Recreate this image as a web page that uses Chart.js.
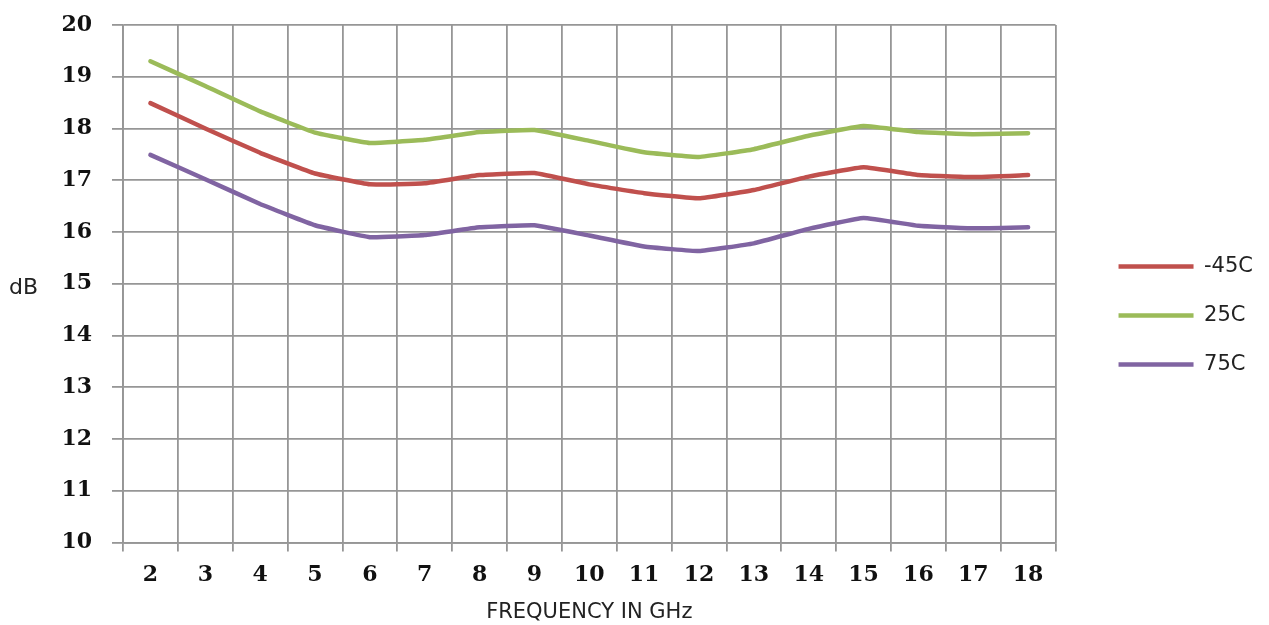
<!DOCTYPE html>
<html>
<head>
<meta charset="utf-8">
<script src="https://cdn.jsdelivr.net/npm/chart.js@4"></script>
<style>
  html, body { margin: 0; padding: 0; background: #fff; }
  #wrap { width: 1269px; height: 625px; }
</style>
</head>
<body>
<div id="wrap"><canvas id="myChart"></canvas></div>
<script>
// frequency in GHz
const freqs = ["2", "3", "4", "5", "6", "7", "8", "9", "10", "11", "12", "13", "14", "15", "16", "17", "18"];
// dB readings per temperature
const minus45 = [18.49, 18.0, 17.53, 17.13, 16.92, 16.94, 17.10, 17.14, 16.92, 16.75, 16.65, 16.81, 17.07, 17.25, 17.10, 17.06, 17.10];
const plus25 = [19.30, 18.82, 18.33, 17.92, 17.72, 17.78, 17.93, 17.97, 17.76, 17.54, 17.45, 17.60, 17.86, 18.05, 17.93, 17.89, 17.91];
const plus75 = [17.49, 17.02, 16.54, 16.13, 15.90, 15.94, 16.09, 16.13, 15.93, 15.72, 15.63, 15.78, 16.06, 16.27, 16.12, 16.07, 16.09];
const yTicks = [10, 11, 12, 13, 14, 15, 16, 17, 18, 19, 20];

const gridColor = "#969696";
const tickFont = { family: "DejaVu Serif", size: 22, weight: "bold" };

// "dB" sits level with the 15 tick, not rotated
const dbLabel = {
  id: "dbLabel",
  afterDraw(chart) {
    const c = chart.ctx;
    const y = chart.scales.y.getPixelForValue(15);
    c.save();
    c.font = "22px 'DejaVu Sans'";
    c.fillStyle = "#222";
    c.textAlign = "left";
    c.textBaseline = "middle";
    c.fillText("dB", 9, y + 5);
    c.restore();
  }
};

const ctx = document.getElementById("myChart").getContext("2d");
const config = {
  type: "line",
  data: {
    labels: freqs,
    datasets: [
      { label: "-45C", data: minus45, borderColor: "#C0504D", backgroundColor: "#C0504D", borderWidth: 4.5 },
      { label: "25C", data: plus25, borderColor: "#9BBB59", backgroundColor: "#9BBB59", borderWidth: 4.5 },
      { label: "75C", data: plus75, borderColor: "#8064A2", backgroundColor: "#8064A2", borderWidth: 4.5 }
    ]
  },
  options: {
    responsive: true,
    maintainAspectRatio: false,
    animation: false,
    elements: {
      line: { tension: 0.1, borderCapStyle: "round" },
      point: { radius: 0 }
    },
    layout: { padding: { left: 0, top: 25, right: 6, bottom: 0 } },
    plugins: {
      legend: {
        position: "right",
        fullSize: false,
        title: { display: true, text: "", padding: { top: 49, bottom: 0 } },
        labels: {
          usePointStyle: true,
          pointStyle: "line",
          pointStyleWidth: 75,
          padding: 28,
          color: "#222",
          font: { family: "DejaVu Sans", size: 21 }
        }
      },
      tooltip: { enabled: false }
    },
    scales: {
      x: {
        offset: true,
        grid: { offset: true, color: gridColor, lineWidth: 1.8, tickLength: 9 },
        border: { color: gridColor, width: 1.8 },
        ticks: { color: "#111", font: tickFont, padding: 11, maxRotation: 0, autoSkip: false },
        title: {
          display: true,
          text: "FREQUENCY IN GHz",
          color: "#222",
          font: { family: "DejaVu Sans", size: 21 },
          padding: { top: 0, bottom: 0 }
        }
      },
      y: {
        min: 10,
        max: 20,
        afterBuildTicks: (axis) => { axis.ticks = yTicks.map((v) => ({ value: v })); },
        afterFit: (axis) => {
          axis.width = 123;
          axis.paddingTop = 0;
          axis.paddingBottom = 0;
        },
        grid: { color: gridColor, lineWidth: 1.8, tickLength: 11 },
        border: { color: gridColor, width: 1.8 },
        ticks: { color: "#111", font: tickFont, padding: 20 }
      },
      // empty strip between plot and legend
      gap: {
        position: "right",
        display: true,
        grid: { display: false },
        border: { display: false },
        ticks: { display: false },
        afterFit: (axis) => { axis.width = 35; }
      }
    }
  },
  plugins: [dbLabel]
};

new Chart(ctx, config);
</script>
</body>
</html>
